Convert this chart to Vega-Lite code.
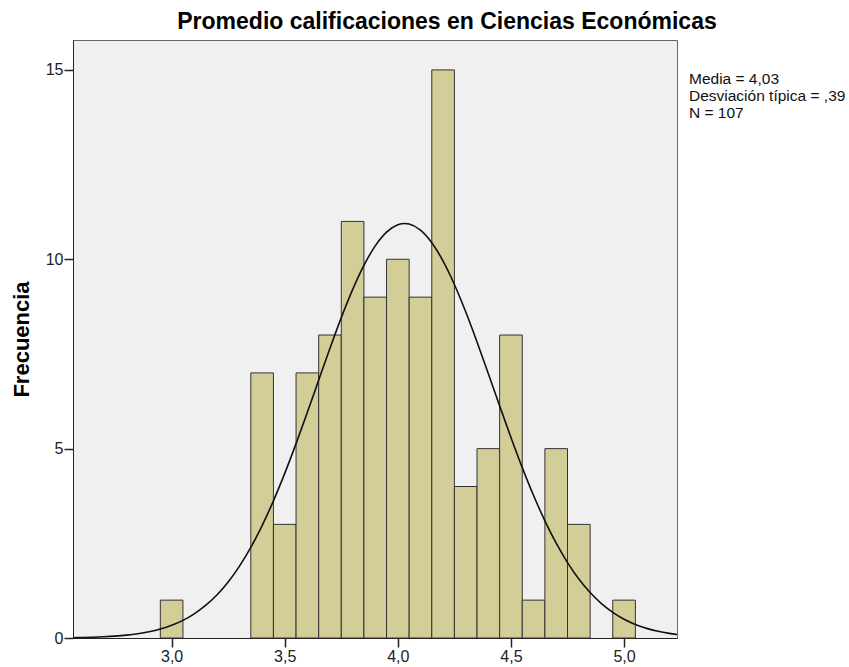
{
  "$schema": "https://vega.github.io/schema/vega-lite/v6.json",
  "width": 604,
  "height": 598,
  "autosize": {"type": "none"},
  "padding": {"left": 73, "top": 40, "right": 172, "bottom": 29},
  "background": "white",
  "config": {
    "font": "Liberation Sans",
    "view": {"fill": "#f0f0f0", "stroke": "#666666", "strokeWidth": 1}
  },
  "title": {
    "text": "Promedio calificaciones en Ciencias Económicas",
    "font": "Liberation Sans",
    "fontSize": 23,
    "fontWeight": "bold",
    "color": "#000000",
    "anchor": "middle",
    "dx": 72,
    "dy": 22,
    "baseline": "alphabetic",
    "offset": 10
  },
  "datasets": {
    "bars": [
      {"start": 2.95, "end": 3.05, "count": 1},
      {"start": 3.35, "end": 3.45, "count": 7},
      {"start": 3.45, "end": 3.55, "count": 3},
      {"start": 3.55, "end": 3.65, "count": 7},
      {"start": 3.65, "end": 3.75, "count": 8},
      {"start": 3.75, "end": 3.85, "count": 11},
      {"start": 3.85, "end": 3.95, "count": 9},
      {"start": 3.95, "end": 4.05, "count": 10},
      {"start": 4.05, "end": 4.15, "count": 9},
      {"start": 4.15, "end": 4.25, "count": 15},
      {"start": 4.25, "end": 4.35, "count": 4},
      {"start": 4.35, "end": 4.45, "count": 5},
      {"start": 4.45, "end": 4.55, "count": 8},
      {"start": 4.55, "end": 4.65, "count": 1},
      {"start": 4.65, "end": 4.75, "count": 5},
      {"start": 4.75, "end": 4.85, "count": 3},
      {"start": 4.95, "end": 5.05, "count": 1}
    ],
    "curve": [
      {"x": 2.564, "y": 0.0085},
      {"x": 2.60, "y": 0.0132},
      {"x": 2.65, "y": 0.0209},
      {"x": 2.70, "y": 0.0326},
      {"x": 2.75, "y": 0.0501},
      {"x": 2.80, "y": 0.0758},
      {"x": 2.85, "y": 0.1126},
      {"x": 2.90, "y": 0.1645},
      {"x": 2.95, "y": 0.2366},
      {"x": 3.00, "y": 0.3347},
      {"x": 3.05, "y": 0.4658},
      {"x": 3.10, "y": 0.6376},
      {"x": 3.15, "y": 0.8585},
      {"x": 3.20, "y": 1.1366},
      {"x": 3.25, "y": 1.4812},
      {"x": 3.30, "y": 1.8985},
      {"x": 3.35, "y": 2.3938},
      {"x": 3.40, "y": 2.9690},
      {"x": 3.45, "y": 3.6221},
      {"x": 3.50, "y": 4.3470},
      {"x": 3.55, "y": 5.1320},
      {"x": 3.60, "y": 5.9601},
      {"x": 3.65, "y": 6.8089},
      {"x": 3.70, "y": 7.6513},
      {"x": 3.75, "y": 8.4587},
      {"x": 3.80, "y": 9.1980},
      {"x": 3.85, "y": 9.8392},
      {"x": 3.90, "y": 10.3532},
      {"x": 3.95, "y": 10.7173},
      {"x": 4.00, "y": 10.9127},
      {"x": 4.03, "y": 10.945},
      {"x": 4.05, "y": 10.9307},
      {"x": 4.10, "y": 10.7701},
      {"x": 4.15, "y": 10.4389},
      {"x": 4.20, "y": 9.9530},
      {"x": 4.25, "y": 9.3351},
      {"x": 4.30, "y": 8.6131},
      {"x": 4.35, "y": 7.8169},
      {"x": 4.40, "y": 6.9789},
      {"x": 4.45, "y": 6.1290},
      {"x": 4.50, "y": 5.2949},
      {"x": 4.55, "y": 4.4995},
      {"x": 4.60, "y": 3.7618},
      {"x": 4.65, "y": 3.0936},
      {"x": 4.70, "y": 2.5022},
      {"x": 4.75, "y": 1.9912},
      {"x": 4.80, "y": 1.5582},
      {"x": 4.85, "y": 1.2000},
      {"x": 4.90, "y": 0.9092},
      {"x": 4.95, "y": 0.6775},
      {"x": 5.00, "y": 0.4965},
      {"x": 5.05, "y": 0.3580},
      {"x": 5.10, "y": 0.2539},
      {"x": 5.15, "y": 0.1772},
      {"x": 5.20, "y": 0.1216},
      {"x": 5.234, "y": 0.0917}
    ],
    "stats": [
      {"label": ["Media = 4,03", "Desviación típica = ,39", "N = 107"]}
    ]
  },
  "layer": [
    {
      "data": {"name": "bars"},
      "mark": {"type": "bar", "fill": "#d3ce97", "stroke": "#333333", "strokeWidth": 1},
      "encoding": {
        "x": {
          "field": "start",
          "type": "quantitative",
          "scale": {"domain": [2.564, 5.234], "nice": false, "zero": false},
          "axis": {
            "values": [3.0, 3.5, 4.0, 4.5, 5.0],
            "labelExpr": "replace(format(datum.value, '.1f'), '.', ',')",
            "title": null,
            "grid": false,
            "domainColor": "#222222",
            "tickColor": "#222222",
            "tickSize": 9,
            "tickWidth": 1.5,
            "labelPadding": 1,
            "labelFont": "Liberation Sans",
            "labelFontSize": 16,
            "labelColor": "#222222"
          }
        },
        "x2": {"field": "end"},
        "y": {
          "field": "count",
          "type": "quantitative",
          "scale": {"domain": [0, 15.79], "nice": false},
          "axis": {
            "values": [0, 5, 10, 15],
            "title": "Frecuencia",
            "titleFont": "Liberation Sans",
            "titleFontSize": 22,
            "titleFontWeight": "bold",
            "titleColor": "#000000",
            "titleAngle": -90,
            "titleBaseline": "alphabetic",
            "titleAlign": "center",
            "titleX": -45,
            "titleY": 299,
            "grid": false,
            "domainColor": "#222222",
            "tickColor": "#222222",
            "tickSize": 9,
            "tickWidth": 1.5,
            "labelPadding": 1,
            "labelFont": "Liberation Sans",
            "labelFontSize": 16,
            "labelColor": "#222222"
          }
        },
        "y2": {"datum": 0}
      }
    },
    {
      "data": {"name": "curve"},
      "mark": {"type": "line", "color": "#111111", "strokeWidth": 1.6, "interpolate": "monotone"},
      "encoding": {
        "x": {"field": "x", "type": "quantitative"},
        "y": {"field": "y", "type": "quantitative"}
      }
    },
    {
      "data": {"name": "stats"},
      "mark": {"type": "text", "align": "left", "baseline": "alphabetic", "font": "Liberation Sans", "fontSize": 15.5, "lineHeight": 17, "color": "#111111"},
      "encoding": {
        "x": {"datum": 5.287, "type": "quantitative"},
        "y": {"datum": 14.62, "type": "quantitative"},
        "text": {"field": "label"}
      }
    }
  ]
}
